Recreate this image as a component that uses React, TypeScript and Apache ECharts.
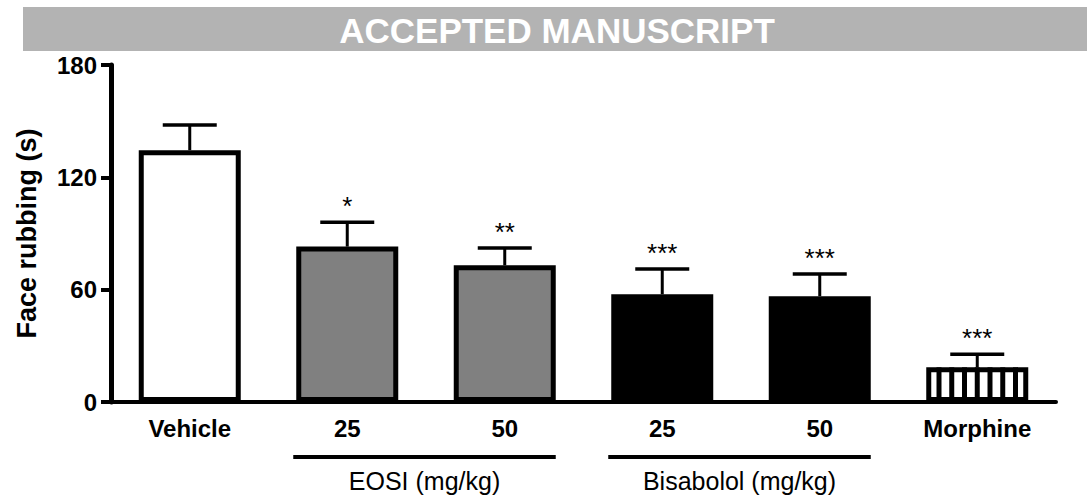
import React, { useEffect, useRef } from "react";
import * as echarts from "echarts";

const categories = ["Vehicle", "25", "50", "25", "50", "Morphine"];
const means = [134.5, 83, 73, 57.5, 56.5, 18.5];
const sems = [13.5, 13, 9.3, 13.5, 11.9, 7];
const stars = ["", "*", "**", "***", "***", "***"];
const fills = ["#ffffff", "#808080", "#808080", "#000000", "#000000", "#ffffff"];
const stripedIndex = 5;
const yMin = 0;
const yMax = 180;
const yInterval = 60;
const groups = [
  { label: "EOSI (mg/kg)", from: 1, to: 2 },
  { label: "Bisabolol (mg/kg)", from: 3, to: 4 },
];
const bannerText = "ACCEPTED MANUSCRIPT";
const yName = "Face rubbing (s)";

const FONT = "'Liberation Sans', Arial, Helvetica, sans-serif";
const BAR_W = 102;
const BORDER = 5;

export default function App() {
  const ref = useRef<HTMLDivElement>(null);
  useEffect(() => {
    if (!ref.current) return;
    const chart = echarts.init(ref.current, null, { renderer: "svg" });
    const option: any = {
      animation: false,
      backgroundColor: "#ffffff",
      grid: { left: 111, right: 31, top: 65, bottom: 93, containLabel: false },
      xAxis: {
        type: "category",
        data: categories,
        axisLine: { show: true, lineStyle: { color: "#000", width: 4 } },
        axisTick: { show: false },
        axisLabel: {
          color: "#000",
          fontFamily: FONT,
          fontWeight: "bold",
          fontSize: 24,
          margin: 14,
        },
        splitLine: { show: false },
      },
      yAxis: {
        type: "value",
        min: yMin,
        max: yMax,
        interval: yInterval,
        name: yName,
        nameLocation: "middle",
        nameRotate: 90,
        nameGap: 71,
        nameTextStyle: {
          color: "#000",
          fontFamily: FONT,
          fontWeight: "bold",
          fontSize: 27,
        },
        axisLine: { show: true, lineStyle: { color: "#000", width: 5 } },
        axisTick: { show: true, length: 10, lineStyle: { color: "#000", width: 4 } },
        axisLabel: {
          color: "#000",
          fontFamily: FONT,
          fontWeight: "bold",
          fontSize: 24,
          margin: 14,
        },
        splitLine: { show: false },
      },
      series: [
        {
          type: "bar",
          barWidth: BAR_W,
          z: 2,
          data: means.map((v, i) => ({ value: v, itemStyle: { color: fills[i] } })),
          itemStyle: { borderColor: "#000", borderWidth: BORDER },
        },
        {
          type: "custom",
          z: 3,
          encode: { x: 0, y: 1 },
          data: [[stripedIndex, means[stripedIndex]]],
          renderItem: (params: any, api: any) => {
            const x = api.value(0);
            const v = api.value(1);
            const p0 = api.coord([x, 0]);
            const p1 = api.coord([x, v]);
            const innerL = p0[0] - BAR_W / 2 + BORDER / 2;
            const innerR = p0[0] + BAR_W / 2 - BORDER / 2;
            const innerW = innerR - innerL;
            const nStripes = 7;
            const sw = 5;
            const gap = (innerW - nStripes * sw) / (nStripes + 1);
            const children: any[] = [];
            for (let i = 0; i < nStripes; i++) {
              children.push({
                type: "rect",
                shape: {
                  x: innerL + gap * (i + 1) + sw * i,
                  y: p1[1],
                  width: sw,
                  height: p0[1] - p1[1],
                },
                style: { fill: "#000" },
              });
            }
            return { type: "group", children };
          },
        },
        {
          type: "custom",
          z: 4,
          encode: { x: 0, y: [1, 2] },
          data: means.map((m, i) => [i, m, m + sems[i]]),
          renderItem: (params: any, api: any) => {
            const x = api.value(0);
            const m = api.value(1);
            const up = api.value(2);
            const s = stars[params.dataIndex];
            const pm = api.coord([x, m]);
            const pu = api.coord([x, up]);
            const half = 27;
            const children: any[] = [
              {
                type: "line",
                shape: { x1: pm[0], y1: pm[1], x2: pu[0], y2: pu[1] },
                style: { stroke: "#000", lineWidth: 3 },
              },
              {
                type: "line",
                shape: { x1: pu[0] - half, y1: pu[1], x2: pu[0] + half, y2: pu[1] },
                style: { stroke: "#000", lineWidth: 3.5 },
              },
            ];
            if (s) {
              children.push({
                type: "text",
                x: pu[0],
                y: pu[1] - 16,
                style: {
                  text: s,
                  fill: "#000",
                  font: `26px ${FONT}`,
                  align: "center",
                  verticalAlign: "middle",
                },
              });
            }
            return { type: "group", children };
          },
        },
      ],
    };
    chart.setOption(option);

    const baseY = chart.convertToPixel({ yAxisIndex: 0 }, 0) as number;
    const graphic: any[] = [
      {
        type: "rect",
        shape: { x: 23, y: 7, width: 1064, height: 44 },
        style: { fill: "#b3b3b3" },
        z: 0,
      },
      {
        type: "text",
        x: 557,
        y: 30,
        style: {
          text: bannerText,
          fill: "#ffffff",
          font: `bold 35px ${FONT}`,
          align: "center",
          verticalAlign: "middle",
        },
        z: 1,
      },
    ];
    groups.forEach((g) => {
      const x1 = (chart.convertToPixel({ xAxisIndex: 0 }, g.from) as number) - 54;
      const x2 = (chart.convertToPixel({ xAxisIndex: 0 }, g.to) as number) + 51;
      const ly = baseY + 55;
      graphic.push({
        type: "line",
        shape: { x1, y1: ly, x2, y2: ly },
        style: { stroke: "#000", lineWidth: 4 },
      });
      graphic.push({
        type: "text",
        x: (x1 + x2) / 2,
        y: baseY + 79,
        style: {
          text: g.label,
          fill: "#000",
          font: `25px ${FONT}`,
          align: "center",
          verticalAlign: "middle",
        },
      });
    });
    chart.setOption({ graphic });
    return () => chart.dispose();
  }, []);
  return (
    <div
      ref={ref}
      style={{ position: "absolute", left: 0, top: 0, width: 1087, height: 495 }}
    />
  );
}
